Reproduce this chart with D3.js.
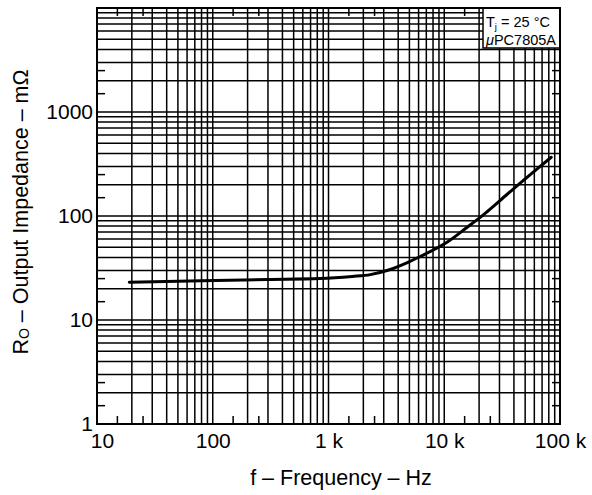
<!DOCTYPE html>
<html><head><meta charset="utf-8">
<script src="https://cdn.jsdelivr.net/npm/d3@7"></script>
<style>body{margin:0;background:#fff}svg{display:block}</style>
</head><body>
<svg id="c" width="592" height="495"></svg>
<script>
// ---- data ----
const freqHz = [19, 80, 300, 850, 1600, 2300, 3200, 4800, 6200, 10800, 15700, 21600, 34800, 45000, 58400, 84000];
const impedanceMOhm = [23.1, 23.9, 24.5, 25.0, 26.2, 27.3, 29.9, 35.7, 40.8, 56.9, 77.6, 102, 161, 206, 263, 367];
const xTickValues = [10, 100, 1000, 10000, 100000];
const xTickLabels = ["10", "100", "1 k", "10 k", "100 k"];
const yTickValues = [1, 10, 100, 1000];
const yTickLabels = ["1", "10", "100", "1000"];
const xDomain = [10, 100000];
const yDomain = [1, 10000];
const gridMultiples = [1, 2, 3, 4, 5, 6, 7, 8, 9];
const minorTickMultiples = [1.5, 2.5];
const legendLines = ["T", "j", " = 25 °C", "μ", "PC7805A"];

// ---- layout ----
const L = 97, R = 560, T = 8, B = 424;
const FONT = "'Liberation Sans', Arial, Helvetica, sans-serif";
const svg = d3.select("#c");
const x = d3.scaleLog().domain(xDomain).range([L, R]);
const y = d3.scaleLog().domain(yDomain).range([B, T]);

function decadeValues(domain, mults) {
  const out = [];
  for (let e = Math.log10(domain[0]); e < Math.log10(domain[1]); e++) {
    mults.forEach(m => out.push(m * Math.pow(10, e)));
  }
  return out;
}
const xGrid = decadeValues(xDomain, gridMultiples).filter(v => v > xDomain[0]);
const yGrid = decadeValues(yDomain, gridMultiples).filter(v => v > yDomain[0]);
const xMinor = decadeValues(xDomain, minorTickMultiples);
const yMinor = decadeValues(yDomain, minorTickMultiples);

const g = svg.append("g");
g.selectAll("line.vx").data(xGrid).join("line")
  .attr("x1", d => x(d)).attr("x2", d => x(d)).attr("y1", T).attr("y2", B)
  .attr("stroke", "#000").attr("stroke-width", 1.5);
g.selectAll("line.hy").data(yGrid).join("line")
  .attr("y1", d => y(d)).attr("y2", d => y(d)).attr("x1", L).attr("x2", R)
  .attr("stroke", "#000").attr("stroke-width", 1.5);

// minor ticks on all sides
const tl = 8;
const mt = svg.append("g").attr("stroke", "#000").attr("stroke-width", 1.5);
xMinor.forEach(v => {
  mt.append("line").attr("x1", x(v)).attr("x2", x(v)).attr("y1", B).attr("y2", B - tl);
  mt.append("line").attr("x1", x(v)).attr("x2", x(v)).attr("y1", T).attr("y2", T + tl);
});
yMinor.forEach(v => {
  mt.append("line").attr("y1", y(v)).attr("y2", y(v)).attr("x1", L).attr("x2", L + tl);
  mt.append("line").attr("y1", y(v)).attr("y2", y(v)).attr("x1", R).attr("x2", R - tl);
});

// legend box
const lg = svg.append("g");
lg.append("rect").attr("x", 483).attr("y", T).attr("width", R - 483).attr("height", 40)
  .attr("fill", "#fff").attr("stroke", "#000").attr("stroke-width", 1.5);
const t1 = lg.append("text").attr("x", 486).attr("y", 27)
  .attr("font-family", FONT).attr("font-size", 14.5).attr("fill", "#000");
t1.append("tspan").text(legendLines[0]);
t1.append("tspan").attr("font-size", 9.5).attr("dy", 3).text(legendLines[1]);
t1.append("tspan").attr("dy", -3).text(legendLines[2]);
const t2 = lg.append("text").attr("x", 486).attr("y", 45)
  .attr("font-family", FONT).attr("font-size", 14.5).attr("fill", "#000");
t2.append("tspan").attr("font-style", "italic").text(legendLines[3]);
t2.append("tspan").text(legendLines[4]);

// frame
svg.append("rect").attr("x", L).attr("y", T).attr("width", R - L).attr("height", B - T)
  .attr("fill", "none").attr("stroke", "#000").attr("stroke-width", 2);

// curve
const line = d3.line().x((d, i) => x(freqHz[i])).y((d, i) => y(impedanceMOhm[i])).curve(d3.curveMonotoneX);
svg.append("path").datum(freqHz).attr("d", line)
  .attr("fill", "none").attr("stroke", "#000").attr("stroke-width", 3).attr("stroke-linecap", "round");

// axes
const xa = svg.append("g").attr("transform", `translate(0,${B})`)
  .call(d3.axisBottom(x).tickValues(xTickValues).tickFormat((d, i) => xTickLabels[i]).tickSize(0).tickPadding(9));
const ya = svg.append("g").attr("transform", `translate(${L},0)`)
  .call(d3.axisLeft(y).tickValues(yTickValues).tickFormat((d, i) => yTickLabels[i]).tickSize(0).tickPadding(4));
[xa, ya].forEach(a => {
  a.select(".domain").remove();
  a.selectAll("text").attr("font-family", FONT).attr("font-size", 21).attr("fill", "#000");
});
xa.selectAll("text").filter((d, i) => i === 0).attr("dx", 5);

// titles
svg.append("text").attr("x", 341).attr("y", 485).attr("text-anchor", "middle")
  .attr("font-family", FONT).attr("font-size", 21.5).attr("fill", "#000")
  .text("f – Frequency – Hz");
const yt = svg.append("text").attr("transform", "translate(28,212) rotate(-90)").attr("text-anchor", "middle")
  .attr("font-family", FONT).attr("font-size", 21.5).attr("fill", "#000");
yt.append("tspan").text("R");
yt.append("tspan").attr("font-size", 14).attr("dy", 1).text("O");
yt.append("tspan").attr("dy", -1).text(" – Output Impedance – mΩ");
</script>
</body></html>
